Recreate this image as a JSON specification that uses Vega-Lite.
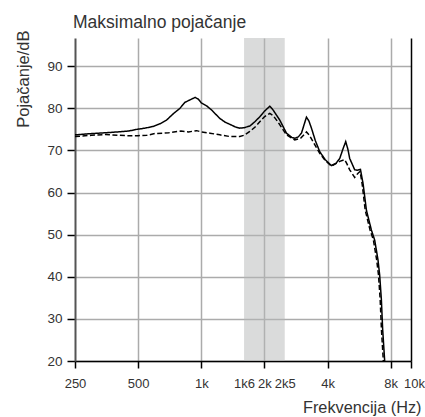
{
  "$schema": "https://vega.github.io/schema/vega-lite/v6.json",
  "width": 336,
  "height": 323,
  "autosize": {"type": "none"},
  "padding": {"left": 75, "top": 38, "right": 14, "bottom": 56},
  "background": "white",
  "config": {"view": {"stroke": null}},
  "title": {
    "text": "Maksimalno pojačanje",
    "anchor": "start",
    "frame": "group",
    "font": "Liberation Sans",
    "fontSize": 17.5,
    "fontWeight": "normal",
    "color": "#333",
    "baseline": "alphabetic",
    "offset": -15,
    "dx": -2
  },
  "datasets": {
    "band": [{"lo": 1600, "hi": 2500}],
    "curves": [
      {"series": "max", "freq": 250, "gain": 73.7},
      {"series": "max", "freq": 300, "gain": 74.0},
      {"series": "max", "freq": 350, "gain": 74.2},
      {"series": "max", "freq": 400, "gain": 74.4},
      {"series": "max", "freq": 450, "gain": 74.6},
      {"series": "max", "freq": 492, "gain": 75.0},
      {"series": "max", "freq": 540, "gain": 75.3},
      {"series": "max", "freq": 590, "gain": 75.7},
      {"series": "max", "freq": 640, "gain": 76.4},
      {"series": "max", "freq": 683, "gain": 77.2},
      {"series": "max", "freq": 735, "gain": 78.7},
      {"series": "max", "freq": 791, "gain": 80.0},
      {"series": "max", "freq": 835, "gain": 81.4},
      {"series": "max", "freq": 883, "gain": 82.0},
      {"series": "max", "freq": 935, "gain": 82.6},
      {"series": "max", "freq": 967, "gain": 82.2},
      {"series": "max", "freq": 1000, "gain": 81.3},
      {"series": "max", "freq": 1060, "gain": 80.6},
      {"series": "max", "freq": 1120, "gain": 79.6},
      {"series": "max", "freq": 1226, "gain": 77.6},
      {"series": "max", "freq": 1300, "gain": 76.7},
      {"series": "max", "freq": 1369, "gain": 76.2},
      {"series": "max", "freq": 1450, "gain": 75.6},
      {"series": "max", "freq": 1527, "gain": 75.3},
      {"series": "max", "freq": 1600, "gain": 75.4},
      {"series": "max", "freq": 1704, "gain": 75.8},
      {"series": "max", "freq": 1800, "gain": 76.8},
      {"series": "max", "freq": 1901, "gain": 78.0},
      {"series": "max", "freq": 2000, "gain": 79.3},
      {"series": "max", "freq": 2122, "gain": 80.5},
      {"series": "max", "freq": 2200, "gain": 79.6},
      {"series": "max", "freq": 2368, "gain": 77.2},
      {"series": "max", "freq": 2548, "gain": 74.1},
      {"series": "max", "freq": 2700, "gain": 73.1},
      {"series": "max", "freq": 2791, "gain": 72.9},
      {"series": "max", "freq": 2900, "gain": 73.2},
      {"series": "max", "freq": 3004, "gain": 74.1},
      {"series": "max", "freq": 3100, "gain": 76.3},
      {"series": "max", "freq": 3173, "gain": 77.9},
      {"series": "max", "freq": 3260, "gain": 77.0},
      {"series": "max", "freq": 3352, "gain": 75.3},
      {"series": "max", "freq": 3500, "gain": 72.3},
      {"series": "max", "freq": 3672, "gain": 69.7},
      {"series": "max", "freq": 3900, "gain": 67.8},
      {"series": "max", "freq": 4175, "gain": 66.4},
      {"series": "max", "freq": 4400, "gain": 67.0},
      {"series": "max", "freq": 4573, "gain": 68.1},
      {"series": "max", "freq": 4750, "gain": 70.5},
      {"series": "max", "freq": 4883, "gain": 72.1},
      {"series": "max", "freq": 5000, "gain": 70.3},
      {"series": "max", "freq": 5102, "gain": 68.1},
      {"series": "max", "freq": 5390, "gain": 65.4},
      {"series": "max", "freq": 5550, "gain": 65.3},
      {"series": "max", "freq": 5740, "gain": 65.5},
      {"series": "max", "freq": 5905, "gain": 62.2},
      {"series": "max", "freq": 6130, "gain": 55.8},
      {"series": "max", "freq": 6473, "gain": 51.1},
      {"series": "max", "freq": 6713, "gain": 48.7},
      {"series": "max", "freq": 6960, "gain": 44.0},
      {"series": "max", "freq": 7090, "gain": 40.4},
      {"series": "max", "freq": 7225, "gain": 34.5},
      {"series": "max", "freq": 7328, "gain": 27.4},
      {"series": "max", "freq": 7490, "gain": 20.0},
      {"series": "ref", "freq": 250, "gain": 73.3},
      {"series": "ref", "freq": 300, "gain": 73.6},
      {"series": "ref", "freq": 350, "gain": 73.8},
      {"series": "ref", "freq": 400, "gain": 73.6},
      {"series": "ref", "freq": 450, "gain": 73.5},
      {"series": "ref", "freq": 500, "gain": 73.5},
      {"series": "ref", "freq": 550, "gain": 73.6},
      {"series": "ref", "freq": 600, "gain": 74.0},
      {"series": "ref", "freq": 700, "gain": 74.2},
      {"series": "ref", "freq": 800, "gain": 74.6},
      {"series": "ref", "freq": 870, "gain": 74.4},
      {"series": "ref", "freq": 950, "gain": 74.7},
      {"series": "ref", "freq": 1000, "gain": 74.4},
      {"series": "ref", "freq": 1100, "gain": 74.1},
      {"series": "ref", "freq": 1226, "gain": 73.7},
      {"series": "ref", "freq": 1369, "gain": 73.3},
      {"series": "ref", "freq": 1527, "gain": 73.3},
      {"series": "ref", "freq": 1600, "gain": 73.6},
      {"series": "ref", "freq": 1704, "gain": 74.5},
      {"series": "ref", "freq": 1800, "gain": 75.5},
      {"series": "ref", "freq": 1901, "gain": 76.8},
      {"series": "ref", "freq": 2000, "gain": 78.0},
      {"series": "ref", "freq": 2122, "gain": 78.8},
      {"series": "ref", "freq": 2200, "gain": 78.3},
      {"series": "ref", "freq": 2318, "gain": 76.8},
      {"series": "ref", "freq": 2548, "gain": 73.7},
      {"series": "ref", "freq": 2791, "gain": 72.5},
      {"series": "ref", "freq": 2974, "gain": 72.9},
      {"series": "ref", "freq": 3100, "gain": 73.8},
      {"series": "ref", "freq": 3173, "gain": 74.4},
      {"series": "ref", "freq": 3280, "gain": 73.6},
      {"series": "ref", "freq": 3410, "gain": 72.1},
      {"series": "ref", "freq": 3672, "gain": 69.3},
      {"series": "ref", "freq": 3900, "gain": 67.6},
      {"series": "ref", "freq": 4175, "gain": 66.3},
      {"series": "ref", "freq": 4573, "gain": 67.4},
      {"series": "ref", "freq": 4830, "gain": 67.8},
      {"series": "ref", "freq": 4950, "gain": 66.8},
      {"series": "ref", "freq": 5102, "gain": 65.4},
      {"series": "ref", "freq": 5390, "gain": 63.6},
      {"series": "ref", "freq": 5590, "gain": 64.6},
      {"series": "ref", "freq": 5720, "gain": 65.0},
      {"series": "ref", "freq": 5850, "gain": 62.0},
      {"series": "ref", "freq": 6050, "gain": 55.8},
      {"series": "ref", "freq": 6380, "gain": 51.1},
      {"series": "ref", "freq": 6620, "gain": 48.7},
      {"series": "ref", "freq": 6860, "gain": 44.0},
      {"series": "ref", "freq": 7000, "gain": 40.4},
      {"series": "ref", "freq": 7130, "gain": 34.5},
      {"series": "ref", "freq": 7230, "gain": 27.4},
      {"series": "ref", "freq": 7380, "gain": 20.0}
    ]
  },
  "layer": [
    {
      "data": {"name": "band"},
      "mark": {"type": "rect", "color": "#b5b8b8", "opacity": 0.5},
      "encoding": {
        "x": {
          "field": "lo",
          "type": "quantitative",
          "scale": {"type": "log", "domain": [250, 10000], "nice": false},
          "axis": {
            "values": [250, 500, 1000, 1600, 2000, 2500, 4000, 8000, 10000],
            "labelExpr": "datum.value == 1600 ? '1k6' : datum.value == 2500 ? '2k5' : datum.value >= 1000 ? (datum.value / 1000) + 'k' : '' + datum.value",
            "labelFont": "Liberation Sans",
            "labelFontSize": 13,
            "labelColor": "#333",
            "labelOverlap": false,
            "labelFlush": false,
            "labelBound": false,
            "labelPadding": 9,
            "labelOffset": {"condition": {"test": "datum.value == 10000", "value": 3}, "value": 0},
            "tickSize": 7,
            "tickColor": "black",
            "tickWidth": 1.5,
            "tickOpacity": {"condition": {"test": "datum.value == 1600 || datum.value == 2500", "value": 0}, "value": 1},
            "grid": true,
            "gridColor": "#ababab",
            "gridWidth": 1.5,
            "gridOpacity": {"condition": {"test": "datum.value == 250 || datum.value == 1600 || datum.value == 2500 || datum.value == 10000", "value": 0}, "value": 1},
            "domainColor": "black",
            "domainWidth": 1.5,
            "title": "Frekvencija (Hz)",
            "titleFont": "Liberation Sans",
            "titleFontSize": 16.3,
            "titleFontWeight": "normal",
            "titleColor": "#333",
            "titleAlign": "right",
            "titleBaseline": "alphabetic",
            "titleX": 346,
            "titleY": 51.5
          }
        },
        "x2": {"field": "hi"}
      }
    },
    {
      "data": {"name": "curves"},
      "mark": {"type": "line", "color": "black", "strokeWidth": 1.5, "clip": true},
      "encoding": {
        "x": {"field": "freq", "type": "quantitative"},
        "y": {
          "field": "gain",
          "type": "quantitative",
          "scale": {"domain": [20, 96.7], "nice": false, "zero": false},
          "axis": {
            "orient": "left",
            "values": [20, 30, 40, 50, 60, 70, 80, 90],
            "labelFont": "Liberation Sans",
            "labelFontSize": 13.5,
            "labelColor": "#333",
            "labelPadding": 5,
            "tickSize": 8,
            "tickColor": "black",
            "tickWidth": 1.5,
            "grid": true,
            "gridColor": "#ababab",
            "gridWidth": 1.5,
            "domainColor": "#555",
            "domainWidth": 2,
            "title": "Pojačanje/dB",
            "titleFont": "Liberation Sans",
            "titleFontSize": 16.5,
            "titleFontWeight": "normal",
            "titleColor": "#333",
            "titleAngle": -90,
            "titleAlign": "right",
            "titleBaseline": "alphabetic",
            "titleX": -46.5,
            "titleY": -8
          }
        },
        "detail": {"field": "series"},
        "strokeDash": {
          "field": "series",
          "type": "nominal",
          "scale": {"domain": ["max", "ref"], "range": [[1, 0], [5, 2.5]]},
          "legend": null
        }
      }
    },
    {
      "data": {"name": "curves"},
      "mark": {"type": "line", "opacity": 0},
      "encoding": {
        "x": {"field": "freq", "type": "quantitative"},
        "y": {
          "field": "gain",
          "type": "quantitative",
          "axis": {
            "orient": "right",
            "labels": false,
            "ticks": false,
            "grid": false,
            "title": null,
            "domainColor": "black",
            "domainWidth": 1.5
          }
        },
        "detail": {"field": "series"}
      }
    }
  ],
  "resolve": {"axis": {"y": "independent"}}
}
